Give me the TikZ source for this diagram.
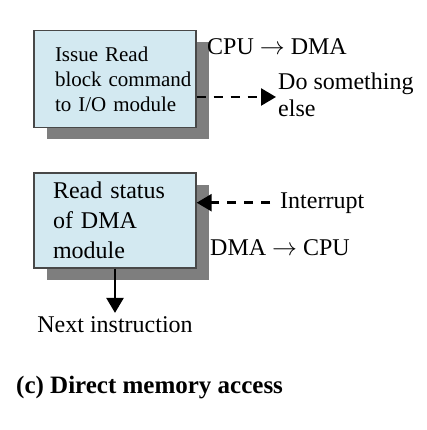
\documentclass[tikz,border=0pt]{standalone}
\usepackage{fontspec}
\setmainfont{Liberation Serif}
\usepackage{tikz}
\usetikzlibrary{arrows.meta,positioning,shadows}
\definecolor{stepfill}{RGB}{211,233,241}
\definecolor{stepline}{RGB}{72,72,72}
\definecolor{stepshadow}{RGB}{126,126,126}

\begin{document}
\begin{tikzpicture}[x=1pt,y=-1pt,
  stepbox/.style={draw=stepline, line width=1.3pt, fill=stepfill, minimum width=162pt,
    align=left, drop shadow={shadow xshift=13pt, shadow yshift=-12pt, fill=stepshadow, opacity=1}},
  lbl/.style={inner sep=0pt, align=left, font=\fontsize{24}{27}\selectfont},
  flow/.style={line width=2.5pt, -{Triangle[length=15pt,width=17pt]}},
  dashflow/.style={flow, dash pattern=on 9pt off 8pt}]
\useasboundingbox (0,0) rectangle (426,430);

% the two steps of the CPU
\node[stepbox, minimum height=97pt, text width=120pt, font=\fontsize{21}{25}\selectfont] (issue) at (115,79)
  {\mbox{Issue Read}\\\mbox{block command}\\\mbox{to I/O module}};
\node[stepbox, minimum height=95pt, text width=124pt, font=\fontsize{24}{30}\selectfont] (status) at (115,220.5)
  {Read status\\of DMA\\module};

% labels
\node[lbl, anchor=base west] (cpudma) at (207,55) {CPU $\rightarrow$ DMA};
\node[lbl, anchor=west] (else) at (278,94.5) {Do something\\else};
\coordinate (elsein) at (276,97);
\node[lbl, anchor=base west] (intr) at (280,208) {Interrupt};
\node[lbl, anchor=base west] (dmacpu) at (210,255) {DMA $\rightarrow$ CPU};
\node[lbl, anchor=base] (next) at (115,332) {Next instruction};
\node[lbl, anchor=base west, font=\fontsize{25}{30}\selectfont\bfseries] (caption) at (16,393)
  {(c) Direct memory access};

% arrows
\draw[dashflow] (issue.east |- elsein) -- (elsein);
\draw[dashflow] ([xshift=-10pt]intr.west) -- (status.east |- intr.west);
\draw[flow, shorten >=3pt] (status.south) -- (next.north);
\end{tikzpicture}
\end{document}
